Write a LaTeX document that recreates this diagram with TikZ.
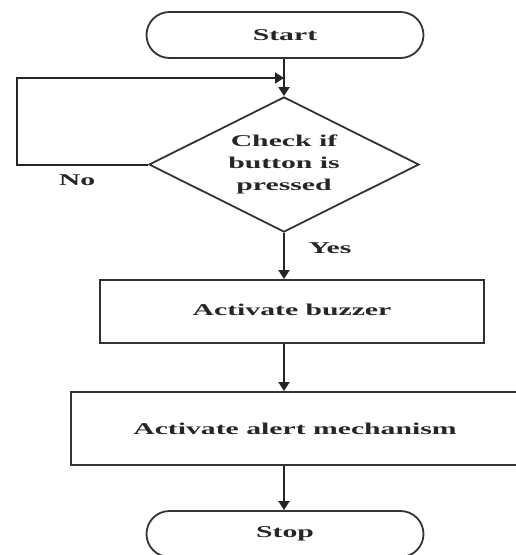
\documentclass[tikz,border=0pt]{standalone}
\usepackage{fontspec}
\setmainfont[FakeStretch=1.8]{Liberation Serif}
\usetikzlibrary{shapes.geometric,shapes.misc,arrows.meta}
\begin{document}
\begin{tikzpicture}[x=1pt, y=-1pt,
	every node/.style={font=\fontsize{16.5}{22}\selectfont\bfseries, text=black!85},
	pill/.style={rounded rectangle, draw=black!80, line width=1.8pt, minimum width=277pt, minimum height=46pt, inner sep=0pt},
	stepbox/.style={rectangle, draw=black!80, line width=2pt, inner sep=0pt},
	decide/.style={diamond, aspect=2, draw=black!80, line width=1.8pt, minimum width=270pt, minimum height=135pt, inner sep=0pt, align=center},
	arrow/.style={draw=black!85, line width=2pt, -{Triangle[length=9pt,width=11pt]}}]
	\useasboundingbox (0,0) rectangle (515,555);
	\node[pill] (start) at (285,35) {Start};
	\node[decide] (check) at (284,164.5) {Check if\\button is\\pressed};
	\node[stepbox, minimum width=384pt, minimum height=63pt] (buzz) at (292,311.5) {\raisebox{4pt}{Activate buzzer}};
	\node[stepbox, minimum width=448pt, minimum height=73pt] (alert) at (295,428.5) {Activate alert mechanism};
	\node[pill] (stop) at (285,534) {Stop};
	\coordinate (join) at (284,78);
	\draw[arrow] (start.south -| check.north) -- (check.north);
	\draw[arrow] (check.west) -- ++(-131,0) |- (join);
	\draw[arrow] (check.south) -- (check.south |- buzz.north);
	\draw[arrow] (check.south |- buzz.south) -- (check.south |- alert.north);
	\draw[arrow] (check.south |- alert.south) -- (stop.north -| check.south);
	\foreach \x\y\t in {77/180/No, 330/248/Yes}{
		\node (lbl\t) at (\x,\y) {\t};
	}
\end{tikzpicture}
\end{document}
